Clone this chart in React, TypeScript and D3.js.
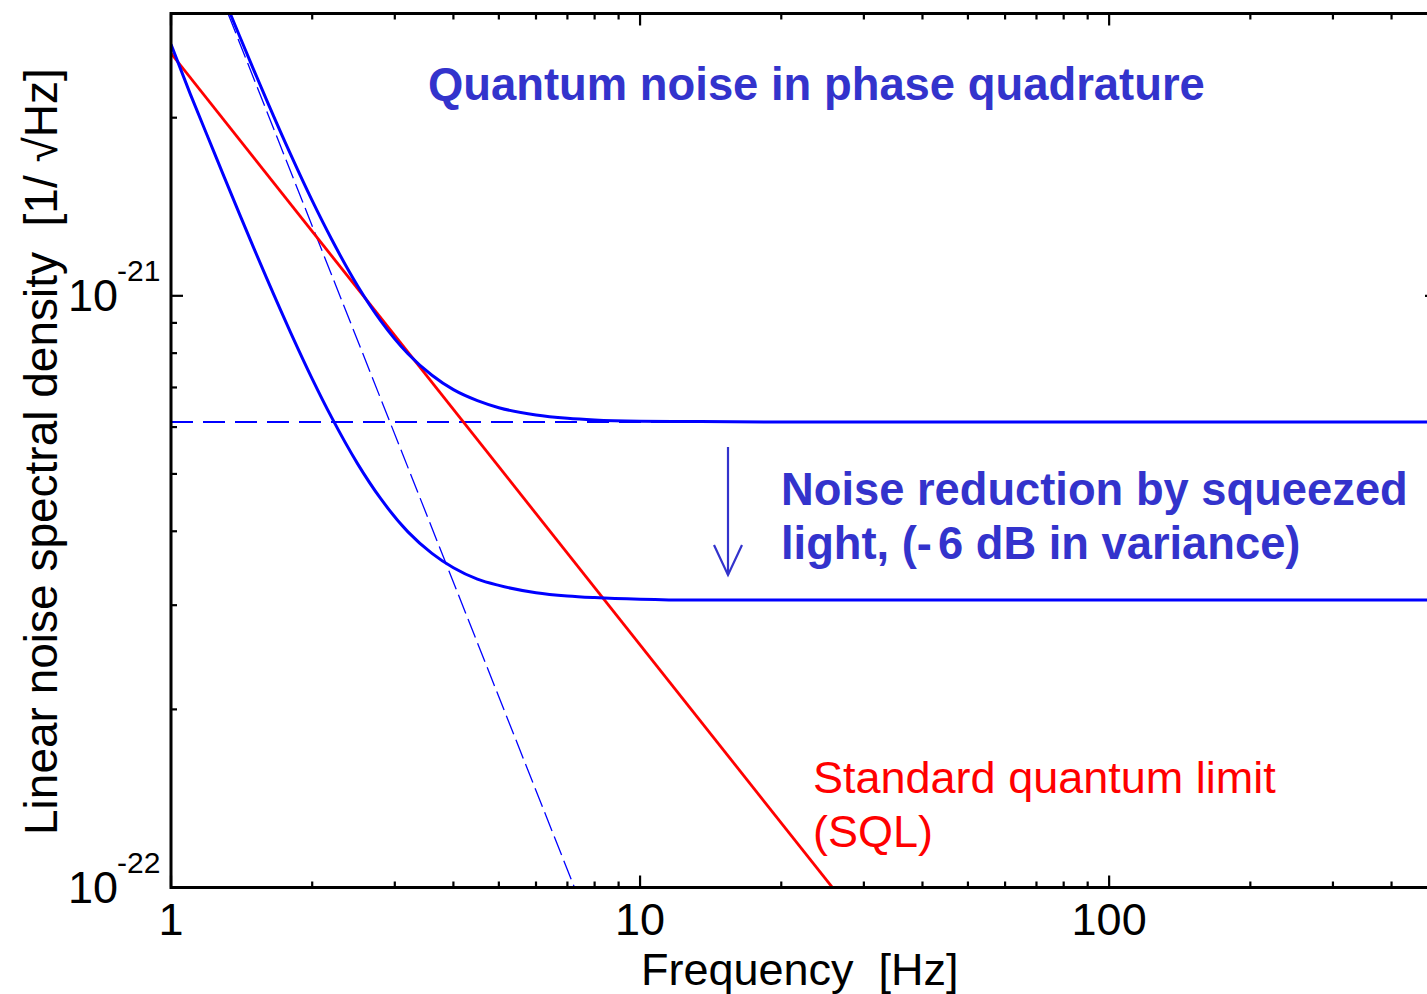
import React from "react";
import * as d3 from "d3";

// ---- data ----
const UPPER_F = [1.2, 1.3, 1.4, 1.5, 1.6, 1.8, 2, 2.2, 2.5, 2.8, 3.2, 3.6, 4, 4.5, 5, 6, 7, 8, 10, 13, 20, 50, 500];
const UPPER_V = [3.697e-21, 3.167e-21, 2.748e-21, 2.412e-21, 2.14e-21, 1.732e-21, 1.448e-21, 1.246e-21, 1.039e-21, 0.907e-21, 0.798e-21, 0.734e-21, 0.694e-21, 0.665e-21, 0.647e-21, 0.629e-21, 0.621e-21, 0.617e-21, 0.614e-21, 0.613e-21, 0.612e-21, 0.612e-21, 0.612e-21];

const LOWER_F = [1, 1.1, 1.2, 1.3, 1.4, 1.5, 1.6, 1.8, 2, 2.2, 2.5, 2.8, 3.2, 3.6, 4, 4.5, 5, 6, 7, 8, 10, 13, 20, 50, 500];
const LOWER_V = [2.66e-21, 2.19e-21, 1.85e-21, 1.584e-21, 1.374e-21, 1.206e-21, 1.07e-21, 0.866e-21, 0.724e-21, 0.623e-21, 0.52e-21, 0.454e-21, 0.399e-21, 0.367e-21, 0.347e-21, 0.332e-21, 0.324e-21, 0.315e-21, 0.311e-21, 0.309e-21, 0.307e-21, 0.306e-21, 0.306e-21, 0.306e-21, 0.306e-21];

const SQL_F = [1, 30];
const SQL_V = [2.57e-21, 8.57e-23];

const SHOT_F = [1, 500];
const SHOT_V = [6.12e-22, 6.12e-22];

const RAD_F = [1, 10];
const RAD_V = [5.25e-21, 5.25e-23];

const X_TICK_LABELS = ["1", "10", "100"];
const Y_TICK_EXP = ["-22", "-21"];

// ---- layout ----
const W = 1427;
const H = 994;
const X0 = 171;
const X1 = 1437;
const Y0 = 887.5;
const Y1 = 13.5;

const BLUE = "#0000ff";
const TEXT_BLUE = "#3333cc";
const RED = "#ff0000";
const FONT = "'Liberation Sans', Arial, Helvetica, sans-serif";

export default function App() {
  const x = d3.scaleLog().domain([1, 500]).range([X0, X1]);
  const y = d3.scaleLog().domain([1e-22, 3e-21]).range([Y0, Y1]);

  const line = d3
    .line<[number, number]>()
    .x((d) => x(d[0]))
    .y((d) => y(d[1]))
    .curve(d3.curveMonotoneX);

  const zip = (f: number[], v: number[]) => f.map((ff, i) => [ff, v[i]] as [number, number]);

  const xTicks = x.ticks();
  const yTicks = y.ticks();
  const isMajor = (v: number) => Math.abs(Math.log10(v) - Math.round(Math.log10(v))) < 1e-6;

  const xMajor = [1, 10, 100];
  const yMajor = [1e-22, 1e-21];

  return (
    <svg
      width={W}
      height={H}
      style={{ position: "absolute", left: 0, top: 0, background: "#fff" }}
      fontFamily={FONT}
    >
      <defs>
        <clipPath id="plotclip">
          <rect x={X0} y={Y1} width={X1 - X0} height={Y0 - Y1} />
        </clipPath>
      </defs>
      <rect x={0} y={0} width={W} height={H} fill="#fff" />

      <g clipPath="url(#plotclip)" fill="none">
        <path d={line(zip(SHOT_F, SHOT_V)) || ""} stroke={BLUE} strokeWidth={1.8} strokeDasharray="22,10" />
        <path d={line(zip(RAD_F, RAD_V)) || ""} stroke={BLUE} strokeWidth={1.3} strokeDasharray="20,6" />
        <path d={line(zip(SQL_F, SQL_V)) || ""} stroke={RED} strokeWidth={2.8} />
        <path d={line(zip(UPPER_F, UPPER_V)) || ""} stroke={BLUE} strokeWidth={3} />
        <path d={line(zip(LOWER_F, LOWER_V)) || ""} stroke={BLUE} strokeWidth={3} />
      </g>

      {/* frame */}
      <rect x={X0} y={Y1} width={X1 - X0} height={Y0 - Y1} fill="none" stroke="#000" strokeWidth={3} />

      {/* x ticks (bottom and top, inward) */}
      {xTicks.map((t, i) => {
        const len = isMajor(t) ? 12 : 6;
        const px = x(t);
        return (
          <g key={"xt" + i} stroke="#000" strokeWidth={2.2}>
            <line x1={px} x2={px} y1={Y0} y2={Y0 - len} />
            <line x1={px} x2={px} y1={Y1} y2={Y1 + len} />
          </g>
        );
      })}
      {/* y ticks (left and right, inward) */}
      {yTicks.map((t, i) => {
        const len = isMajor(t) ? 12 : 6;
        const py = y(t);
        return (
          <g key={"yt" + i} stroke="#000" strokeWidth={2.2}>
            <line x1={X0} x2={X0 + len} y1={py} y2={py} />
            <line x1={X1} x2={X1 - len} y1={py} y2={py} />
          </g>
        );
      })}

      {/* x tick labels */}
      {xMajor.map((t, i) => (
        <text key={"xl" + i} x={x(t)} y={935} fontSize={45} textAnchor="middle" fill="#000">
          {X_TICK_LABELS[i]}
        </text>
      ))}
      {/* y tick labels */}
      {yMajor.map((t, i) => (
        <g key={"yl" + i} fill="#000">
          <text x={118} y={y(t) + 15} fontSize={45} textAnchor="end">10</text>
          <text x={117} y={y(t) - 15} fontSize={30} textAnchor="start">{Y_TICK_EXP[i]}</text>
        </g>
      ))}

      {/* axis titles */}
      <text x={641} y={985} fontSize={45} fill="#000" style={{ whiteSpace: "pre" }}>
        {"Frequency  [Hz]"}
      </text>
      <text
        transform="translate(57,835) rotate(-90)"
        fontSize={46}
        fill="#000"
        style={{ whiteSpace: "pre" }}
      >
        {"Linear noise spectral density  [1/ \u221AHz]"}
      </text>

      {/* annotations */}
      <text x={428} y={100} fontSize={45.4} fontWeight="bold" fill={TEXT_BLUE}>
        Quantum noise in phase quadrature
      </text>
      <text x={781} y={505} fontSize={45.3} fontWeight="bold" fill={TEXT_BLUE}>
        Noise reduction by squeezed
      </text>
      <text x={781} y={559} fontSize={45.3} fontWeight="bold" fill={TEXT_BLUE}>
        light, (-<tspan dx={6}>6 dB in variance)</tspan>
      </text>
      <g stroke={TEXT_BLUE} strokeWidth={2.2} fill="none">
        <line x1={728} x2={728} y1={447} y2={575} />
        <polyline points="714,545 728,575 742,545" />
      </g>
      <text x={813} y={793} fontSize={45} fill={RED}>
        Standard quantum limit
      </text>
      <text x={813} y={847} fontSize={45} fill={RED}>
        (SQL)
      </text>
    </svg>
  );
}
